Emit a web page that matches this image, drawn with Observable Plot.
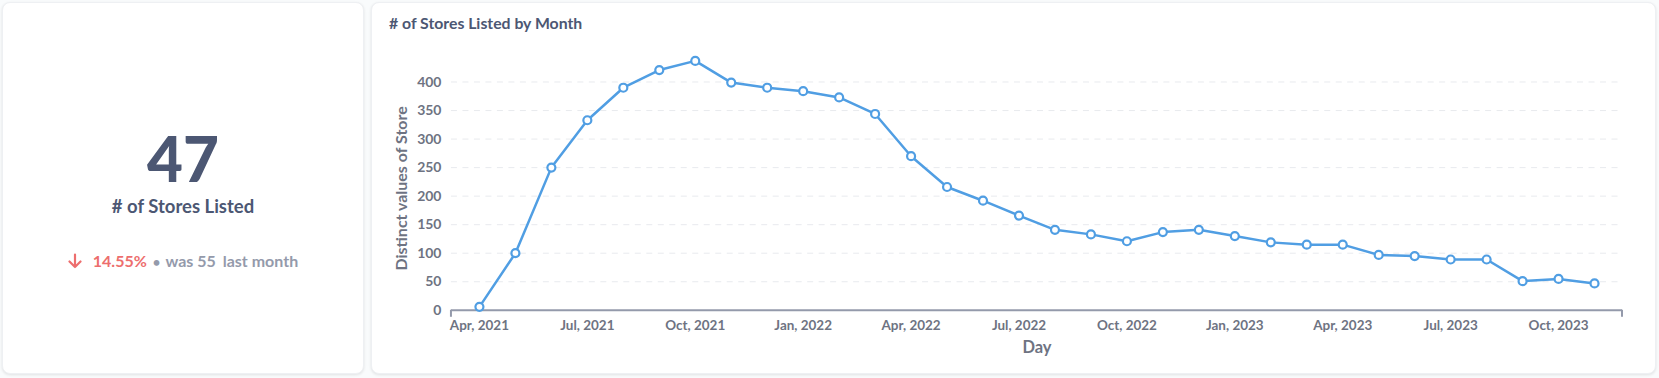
<!DOCTYPE html>
<html>
<head>
<meta charset="utf-8">
<script src="https://cdn.jsdelivr.net/npm/d3@7"></script>
<script src="https://cdn.jsdelivr.net/npm/@observablehq/plot@0.6"></script>
<style>
  html, body { margin: 0; padding: 0; }
  body { width: 1659px; height: 378px; background: #F9FBFC; font-family: Lato, "Noto Sans", sans-serif; position: relative; overflow: hidden; }
  .card { position: absolute; background: #fff; border-radius: 8px; box-shadow: 0 1px 3px rgba(0,0,0,0.10); border: 1px solid #EEF0F3; box-sizing: border-box; }
  #left { left: 2px; top: 2px; width: 362px; height: 372px; }
  #right { left: 371px; top: 2px; width: 1285px; height: 372px; }
  .big { position: absolute; left: 0; right: 0; top: 118px; text-align: center; font-size: 62px; line-height: 1.2; font-weight: 900; color: #4C5773; }
  .sub { position: absolute; left: 0; right: 0; top: 192px; text-align: center; font-size: 18.5px; line-height: 1.2; font-weight: 700; color: #4C5773; }
  .chg { position: absolute; left: 0; right: 0; top: 248px; text-align: center; font-size: 16px; line-height: 1.2; font-weight: 700; color: #949AAB; white-space: nowrap; }
  .chg svg { vertical-align: -2px; }
  .red { color: #ED6E6E; }
  .title { position: absolute; left: 17px; top: 11px; font-size: 15.8px; line-height: 18px; font-weight: 700; color: #4C5773; }
  #chart { position: absolute; left: -1px; top: 37px; }
</style>
</head>
<body>
<div class="card" id="left">
  <div class="big" id="kpi"></div>
  <div class="sub" id="kpiLabel"></div>
  <div class="chg" id="kpiChange"></div>
</div>
<div class="card" id="right">
  <div class="title" id="title"></div>
  <div id="chart"></div>
</div>
<script>
// ---- data ----
const months = [
  "Apr, 2021", "May, 2021", "Jun, 2021", "Jul, 2021", "Aug, 2021", "Sep, 2021",
  "Oct, 2021", "Nov, 2021", "Dec, 2021",
  "Jan, 2022", "Feb, 2022", "Mar, 2022", "Apr, 2022", "May, 2022", "Jun, 2022",
  "Jul, 2022", "Aug, 2022", "Sep, 2022", "Oct, 2022", "Nov, 2022", "Dec, 2022",
  "Jan, 2023", "Feb, 2023", "Mar, 2023", "Apr, 2023", "May, 2023", "Jun, 2023",
  "Jul, 2023", "Aug, 2023", "Sep, 2023", "Oct, 2023", "Nov, 2023"
];
const stores = [
  6, 100, 250, 333, 390, 421, 437, 399, 390,
  384, 373, 344, 270, 216, 192, 166, 141, 133, 121, 137, 141,
  130, 119, 115, 115, 97, 95, 89, 89, 51, 55, 47
];
const xTicks = ["Apr, 2021", "Jul, 2021", "Oct, 2021", "Jan, 2022", "Apr, 2022", "Jul, 2022",
                "Oct, 2022", "Jan, 2023", "Apr, 2023", "Jul, 2023", "Oct, 2023"];
const yTicks = [0, 50, 100, 150, 200, 250, 300, 350, 400];
const kpiValue = 47;
const kpiPrevious = 55;
const kpiChangeText = "14.55%";
const kpiTitle = "# of Stores Listed";
const chartTitle = "# of Stores Listed by Month";
const xLabel = "Day";
const yLabel = "Distinct values of Store";

// ---- KPI card ----
document.getElementById("kpi").textContent = kpiValue;
document.getElementById("kpiLabel").textContent = kpiTitle;
const arrow = `<svg width="14" height="16" viewBox="0 0 14 16"><path d="M7 1.5 V14 M1.5 8.5 L7 14 L12.5 8.5" fill="none" stroke="#ED6E6E" stroke-width="2.2" stroke-linecap="round" stroke-linejoin="round"/></svg>`;
document.getElementById("kpiChange").innerHTML =
  `${arrow}<span class="red" style="margin-left:11px">${kpiChangeText}</span><span style="font-size:13px;margin:0 5px 0 6px">•</span>was ${kpiPrevious}<span style="margin-left:7px">last month</span>`;
document.getElementById("title").textContent = chartTitle;

// ---- chart ----
const data = months.map((m, i) => ({month: m, stores: stores[i]}));

const endTicks = (index, scales, values, dim) => {
  const g = d3.create("svg:g");
  const y0 = scales.y(0);
  [dim.marginLeft, dim.width - dim.marginRight].forEach(x => {
    g.append("line").attr("x1", x).attr("x2", x).attr("y1", y0).attr("y2", y0 + 7)
      .attr("stroke", "#949AAB").attr("stroke-width", 2);
  });
  return g.node();
};

const chart = Plot.plot({
  width: 1285,
  height: 330,
  marginLeft: 80,
  marginRight: 33,
  marginTop: 13,
  marginBottom: 60,
  style: {fontFamily: "Lato, 'Noto Sans', sans-serif", fontSize: "13.5px", fontWeight: 700, color: "#6E7382", background: "transparent", overflow: "visible"},
  x: {type: "point", domain: months, padding: 0.75, label: null},
  y: {domain: [0, 450], label: null},
  marks: [
    Plot.ruleY(yTicks.filter(d => d > 0), {stroke: "#E8EAEE", strokeDasharray: "6,5.5", strokeWidth: 1}),
    Plot.axisY({ticks: yTicks, tickSize: 0, tickPadding: 10, label: null, fontSize: 14}),
    Plot.axisX({ticks: xTicks, tickSize: 0, tickPadding: 10, label: null, fontSize: 13.5}),
    Plot.ruleY([0], {stroke: "#949AAB", strokeWidth: 2}),
    endTicks,
    Plot.line(data, {x: "month", y: "stores", stroke: "#509EE3", strokeWidth: 2.5}),
    Plot.dot(data, {x: "month", y: "stores", r: 4, fill: "white", stroke: "#509EE3", strokeWidth: 2.2}),
    Plot.text([xLabel], {text: d => d, frameAnchor: "bottom", dy: 43, fontSize: 16.5, fontWeight: 700, fill: "#6E7382"}),
    Plot.text([yLabel], {text: d => d, frameAnchor: "left", textAnchor: "middle", rotate: -90, dx: -50, dy: 6.5, fontSize: 16, fontWeight: 700, fill: "#6E7382"})
  ]
});
document.getElementById("chart").appendChild(chart);
</script>
</body>
</html>
